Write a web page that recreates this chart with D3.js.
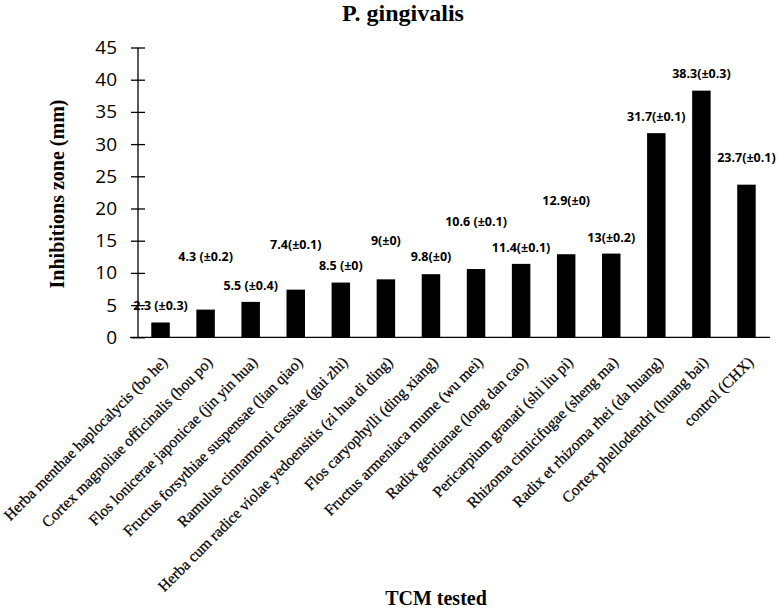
<!DOCTYPE html>
<html>
<head>
<meta charset="utf-8">
<script src="https://cdn.jsdelivr.net/npm/d3@7"></script>
<style>
  html, body { margin: 0; padding: 0; background: #fff; }
  svg { display: block; }
</style>
</head>
<body>
<svg id="chart" width="777" height="608"></svg>
<script>
const categories = [
  "Herba menthae haplocalycis (bo he)",
  "Cortex magnoliae officinalis (hou po)",
  "Flos lonicerae japonicae (jin yin hua)",
  "Fructus forsythiae suspensae (lian qiao)",
  "Ramulus cinnamomi cassiae (gui zhi)",
  "Herba cum radice violae yedoensitis (zi hua di ding)",
  "Flos caryophylli (ding xiang)",
  "Fructus armeniaca mume (wu mei)",
  "Radix gentianae (long dan cao)",
  "Pericarpium granati (shi liu pi)",
  "Rhizoma cimicifugae (sheng ma)",
  "Radix et rhizoma rhei (da huang)",
  "Cortex phellodendri (huang bai)",
  "control (CHX)"
];
const values = [2.3, 4.3, 5.5, 7.4, 8.5, 9, 9.8, 10.6, 11.4, 12.9, 13, 31.7, 38.3, 23.7];
const valueLabels = [
  "2.3 (±0.3)", "4.3 (±0.2)", "5.5 (±0.4)", "7.4(±0.1)", "8.5 (±0)", "9(±0)",
  "9.8(±0)", "10.6 (±0.1)", "11.4(±0.1)", "12.9(±0)", "13(±0.2)",
  "31.7(±0.1)", "38.3(±0.3)", "23.7(±0.1)"
];
// height (in mm units) at which each value label was placed in the original
const labelLevels = [4.9, 12.6, 8.0, 14.4, 11.1, 15.0, 12.6, 18.0, 13.9, 21.3, 15.5, 34.3, 40.9, 27.9];
const yTicks = [0, 5, 10, 15, 20, 25, 30, 35, 40, 45];

(function () {
const svg = d3.select("#chart");
const mLeft = 138, mRight = 769, mTop = 47.5, mBottom = 337.3;

const x = d3.scaleBand().domain(categories).range([mLeft, mRight])
  .paddingInner(0.59).paddingOuter(0.295);
const y = d3.scaleLinear().domain([0, 45]).range([mBottom, mTop]);

// Title
svg.append("text").attr("x", 403).attr("y", 21).attr("text-anchor", "middle")
  .style("font-family", "'Liberation Serif', 'Times New Roman', serif")
  .style("font-weight", "bold").style("font-size", "24px").text("P. gingivalis");

// Y axis
const yAxis = d3.axisLeft(y).tickValues(yTicks).tickSize(7).tickPadding(14);
const gy = svg.append("g").attr("transform", `translate(${mLeft},0)`).call(yAxis);
gy.select(".domain").attr("d", `M0,${mTop}V${mBottom}`).attr("stroke", "#000").attr("stroke-width", 1.3);
gy.selectAll(".tick line").attr("x1", -7).attr("x2", 7).attr("stroke", "#000").attr("stroke-width", 1.3);
gy.selectAll(".tick text")
  .style("font-family", "'Open Sans', 'Liberation Sans', sans-serif")
  .style("font-size", "19px").attr("fill", "#000");

// Bars
svg.append("g").selectAll("rect").data(values).join("rect")
  .attr("x", (d, i) => x(categories[i]))
  .attr("width", x.bandwidth())
  .attr("y", d => y(d))
  .attr("height", d => y(0) - y(d))
  .attr("fill", "#000");

// X axis line
const xAxis = d3.axisBottom(x).tickSize(0).tickFormat(() => "");
const gx = svg.append("g").attr("transform", `translate(0,${mBottom})`).call(xAxis);
gx.select(".domain").attr("d", `M130,0H770`).attr("stroke", "#000").attr("stroke-width", 1.3);

// Category labels
svg.append("g").selectAll("text").data(categories).join("text")
  .attr("transform", d => `translate(${x(d) + x.bandwidth() / 2 + 4},${mBottom + 22}) rotate(-45)`)
  .attr("text-anchor", "end")
  .attr("dy", "0.35em")
  .style("font-family", "'Liberation Serif', 'Times New Roman', serif")
  .style("font-size", "15.5px")
  .style("stroke", "#000").style("stroke-width", 0.25)
  .text(d => d);

// Value labels
svg.append("g").selectAll("text").data(valueLabels).join("text")
  .attr("x", (d, i) => x(categories[i]) + x.bandwidth() / 2)
  .attr("y", (d, i) => y(labelLevels[i]))
  .attr("dy", "0.35em")
  .attr("text-anchor", "middle")
  .style("font-family", "'Open Sans', 'Liberation Sans', sans-serif")
  .style("font-weight", "bold").style("font-size", "12.5px")
  .text(d => d);

// Axis titles
svg.append("text")
  .attr("transform", `translate(64,194) rotate(-90)`)
  .attr("text-anchor", "middle")
  .style("font-family", "'Liberation Serif', 'Times New Roman', serif")
  .style("font-weight", "bold").style("font-size", "20px")
  .text("Inhibitions zone (mm)");

svg.append("text").attr("x", 436).attr("y", 605).attr("text-anchor", "middle")
  .style("font-family", "'Liberation Serif', 'Times New Roman', serif")
  .style("font-weight", "bold").style("font-size", "20px")
  .text("TCM tested");
})();
</script>
</body>
</html>
